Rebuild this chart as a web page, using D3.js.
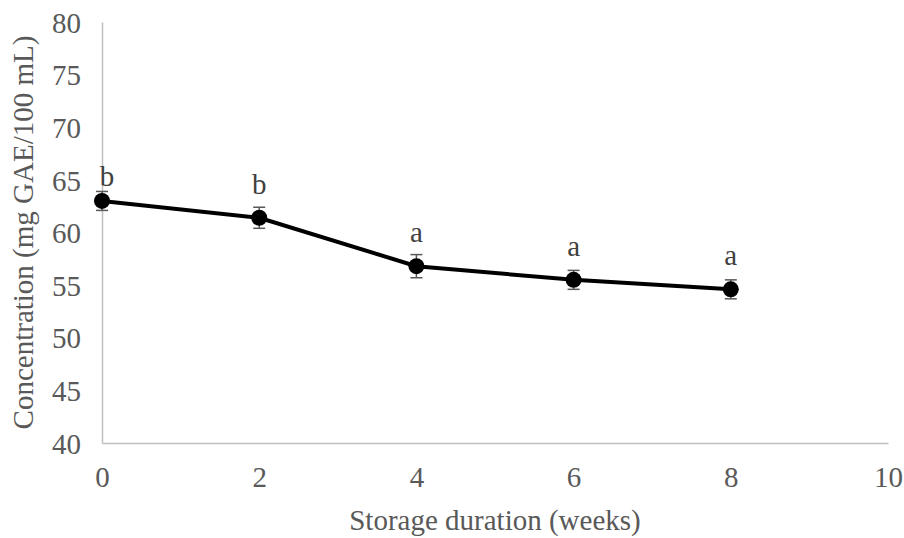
<!DOCTYPE html>
<html lang="en">

<head>
	<meta charset="utf-8">
	<title> Storage duration </title>
	<script src="https://d3js.org/d3.v7.min.js"></script>
	<style type="text/css">
		body{
			margin: 0;
			background: #fff;
		}
		text{
			font-family: "Liberation Serif", "Times New Roman", serif;
		}
	</style>
</head>

<body>
	<script type="text/javascript">

	// data
	var weeks = [0, 2, 4, 6, 8]
	var concentration = [63.0, 61.4, 56.8, 55.5, 54.6]
	var errors = [0.9, 1.0, 1.1, 0.9, 0.9]
	var letters = ["b", "b", "a", "a", "a"]
	var xTicks = [0, 2, 4, 6, 8, 10]
	var yTicks = [40, 45, 50, 55, 60, 65, 70, 75, 80]

	// init window size
	var w = 904;
	var h = 538;
	var padL = 102, padR = 888, padT = 22, padB = 443;
	var grey = "#595959";

	// init XY scale
	var xScale = d3.scaleLinear().domain([0, 10]).range([padL, padR])
	var yScale = d3.scaleLinear().domain([40, 80]).range([padB, padT])

	// init axis
	var xAxis = d3.axisBottom(xScale).tickValues(xTicks).tickSize(0).tickPadding(44).tickFormat(d3.format("d"))
	var yAxis = d3.axisLeft(yScale).tickValues(yTicks).tickSize(0).tickPadding(21).tickFormat(d3.format("d"))

	// init svg
	var svg = d3.select("body")
				.append("svg")
				.attr("width", w)
				.attr("height", h)

	svg.append("rect").attr("width", w).attr("height", h).attr("fill", "#fff")

	// create X axis
	var gx = svg.append("g")
		.attr("transform", "translate(0," + padB + ")")
		.call(xAxis)
	gx.select(".domain").attr("stroke", "#bfbfbf").attr("stroke-width", 1.5)
	gx.selectAll("text")
		.attr("font-size", 29)
		.attr("fill", grey)
		.attr("dy", "0")
		.attr("y", 44)

	// create Y axis
	var gy = svg.append("g")
		.attr("transform", "translate(" + padL + ",0)")
		.call(yAxis)
	gy.select(".domain").attr("stroke", "#bfbfbf").attr("stroke-width", 1.5)
	gy.selectAll("text")
		.attr("font-size", 29)
		.attr("fill", grey)
		.attr("dy", "0.35em")

	// x label
	svg.append("text")
		.attr("x", (padL + padR) / 2)
		.attr("y", 530)
		.attr("text-anchor", "middle")
		.attr("font-size", 29)
		.attr("fill", grey)
		.text("Storage duration (weeks)")

	// y label
	svg.append("text")
		.attr("transform", "translate(33," + ((padT + padB) / 2) + ") rotate(-90)")
		.attr("text-anchor", "middle")
		.attr("font-size", 29)
		.attr("fill", grey)
		.text("Concentration (mg GAE/100 mL)")

	var points = weeks.map(function(d, i){
		return {x: d, y: concentration[i], e: errors[i], l: letters[i]}
	})

	// error bars
	var eb = svg.append("g")
		.attr("stroke", grey)
		.attr("stroke-width", 1.5)
		.selectAll("g")
		.data(points)
		.enter()
		.append("g")
	eb.append("line")
		.attr("x1", d => xScale(d.x)).attr("x2", d => xScale(d.x))
		.attr("y1", d => yScale(d.y - d.e)).attr("y2", d => yScale(d.y + d.e))
	eb.append("line")
		.attr("x1", d => xScale(d.x) - 6).attr("x2", d => xScale(d.x) + 6)
		.attr("y1", d => yScale(d.y - d.e)).attr("y2", d => yScale(d.y - d.e))
	eb.append("line")
		.attr("x1", d => xScale(d.x) - 6).attr("x2", d => xScale(d.x) + 6)
		.attr("y1", d => yScale(d.y + d.e)).attr("y2", d => yScale(d.y + d.e))

	// line
	var line = d3.line().x(d => xScale(d.x)).y(d => yScale(d.y))
	svg.append("path")
		.datum(points)
		.attr("d", line)
		.attr("fill", "none")
		.attr("stroke", "#000")
		.attr("stroke-width", 4)

	// markers
	svg.append("g")
		.selectAll("circle")
		.data(points)
		.enter()
		.append("circle")
		.attr("cx", d => xScale(d.x))
		.attr("cy", d => yScale(d.y))
		.attr("r", 8)
		.attr("fill", "#000")

	// letters (first one is nudged by excel)
	svg.append("g")
		.selectAll("text")
		.data(points)
		.enter()
		.append("text")
		.attr("x", (d, i) => xScale(d.x) + (i == 0 ? 5 : 0))
		.attr("y", (d, i) => yScale(d.y) - (i == 0 ? 15 : 24))
		.attr("text-anchor", "middle")
		.attr("font-size", 29)
		.attr("fill", "#404040")
		.text(d => d.l)

	</script>
</body>
</html>
